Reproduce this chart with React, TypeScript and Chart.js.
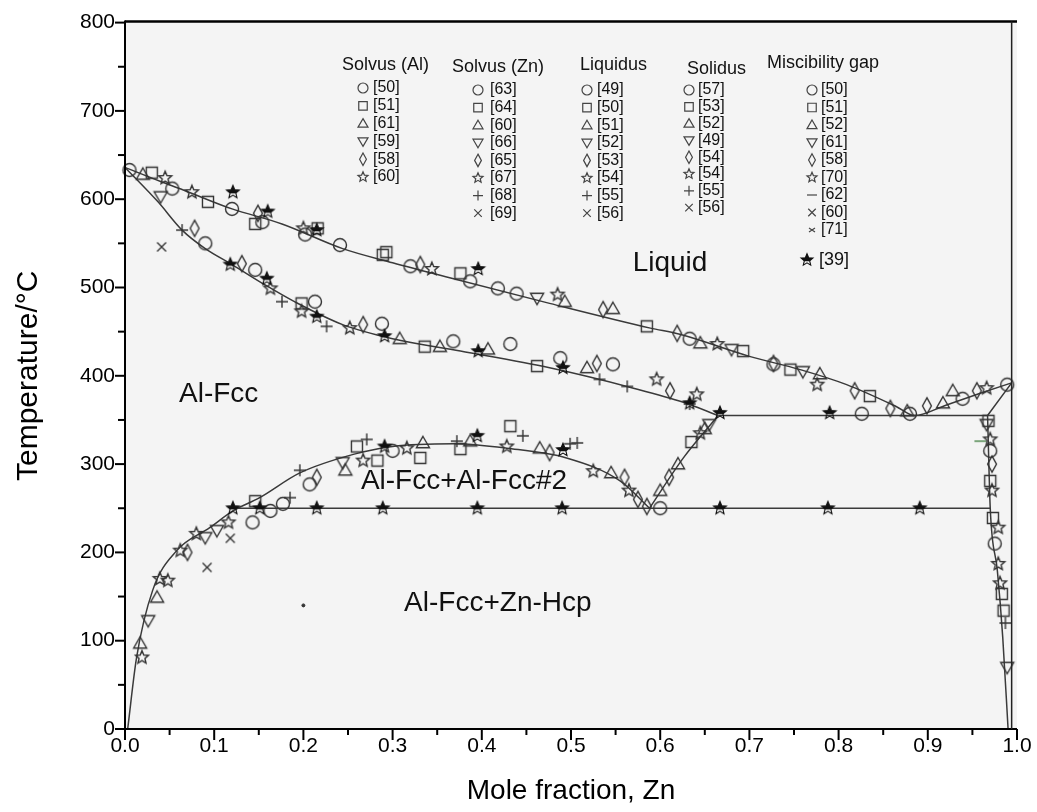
import React, { useEffect, useRef } from 'react';
import { Chart, registerables } from 'chart.js';

Chart.register(...registerables);

const FONT = "'Liberation Sans', Arial, Helvetica, sans-serif";
const INK = '#333333';
const LINE = '#3a3a3a';

// ---- calculated phase boundaries [x(Zn), T(°C)] ----
const liquidusLine = [[0, 636], [0.04, 620], [0.064, 611], [0.12, 589], [0.176, 572], [0.244, 544], [0.3, 528], [0.364, 511], [0.476, 482], [0.589, 454], [0.622, 447], [0.7, 422], [0.757, 407], [0.809, 390], [0.865, 365], [0.885, 355], [0.921, 367], [0.958, 380], [0.994, 392]];
const solidusLine = [[0, 636], [0.037, 597], [0.064, 565], [0.09, 544], [0.12, 526], [0.157, 503], [0.19, 484], [0.244, 458], [0.3, 442], [0.376, 428], [0.476, 409], [0.57, 386], [0.626, 370], [0.665, 355]];
const eutecticLine = [[0.665, 355], [0.967, 355]];
const znSolidusLine = [[0.967, 355], [0.994, 392]];
const znSolvusLine = [[0.967, 355], [0.97, 250], [0.978, 179], [0.984, 104], [0.99, 0]];
const monotectoidLine = [[0.121, 250], [0.97, 250]];
const gapLine = [[0.003, 0], [0.013, 81], [0.031, 157], [0.058, 202], [0.095, 228], [0.121, 247], [0.151, 262], [0.196, 290], [0.256, 311], [0.3, 320], [0.368, 323], [0.428, 318], [0.495, 307], [0.555, 281], [0.588, 250]];
const fcc2Line = [[0.588, 250], [0.626, 307], [0.665, 355]];

// ---- experimental points, by marker ----
const circlePts = [[0.005, 633], [0.053, 612], [0.12, 589], [0.154, 574], [0.202, 560], [0.241, 548], [0.32, 524], [0.387, 507], [0.418, 499], [0.439, 493], [0.633, 442], [0.727, 413], [0.826, 357], [0.88, 357], [0.939, 374], [0.989, 390],
  [0.09, 550], [0.146, 520], [0.213, 484], [0.288, 459], [0.368, 439], [0.432, 436], [0.488, 420], [0.547, 413],
  [0.143, 234], [0.163, 247], [0.177, 255], [0.207, 277], [0.3, 315], [0.6, 250], [0.97, 315], [0.975, 210]];
const squarePts = [[0.03, 630], [0.093, 597], [0.146, 572], [0.216, 567], [0.289, 537], [0.293, 540], [0.376, 516], [0.585, 456], [0.693, 428], [0.746, 407], [0.835, 377],
  [0.198, 482], [0.336, 433], [0.462, 411],
  [0.146, 258], [0.26, 320], [0.283, 304], [0.331, 307], [0.376, 317], [0.432, 343], [0.635, 325],
  [0.97, 281], [0.973, 239], [0.983, 153], [0.985, 134], [0.968, 349]];
const trianglePts = [[0.02, 628], [0.493, 484], [0.547, 476], [0.645, 437], [0.779, 402], [0.877, 360], [0.917, 369], [0.928, 383],
  [0.308, 442], [0.353, 433], [0.407, 430], [0.518, 409],
  [0.017, 97], [0.036, 149], [0.247, 293], [0.334, 324], [0.387, 326], [0.465, 318], [0.545, 290], [0.6, 270], [0.62, 300], [0.65, 340]];
const invTrianglePts = [[0.462, 488], [0.68, 430], [0.76, 405], [0.04, 603],
  [0.026, 123], [0.09, 217], [0.103, 225], [0.244, 302], [0.655, 345], [0.989, 70], [0.966, 345]];
const diamondPts = [[0.149, 584], [0.331, 526], [0.536, 475], [0.619, 448], [0.727, 414], [0.818, 383], [0.858, 363], [0.899, 366], [0.955, 383],
  [0.078, 567], [0.131, 527], [0.267, 458], [0.529, 414], [0.611, 383],
  [0.07, 200], [0.215, 285], [0.476, 313], [0.56, 285], [0.575, 260], [0.585, 252], [0.61, 285], [0.972, 300]];
const openStarPts = [[0.045, 624], [0.075, 608], [0.2, 567], [0.344, 521], [0.485, 492], [0.664, 436], [0.776, 390], [0.966, 386],
  [0.163, 499], [0.198, 473], [0.252, 454], [0.596, 396], [0.641, 379],
  [0.019, 81], [0.039, 170], [0.048, 168], [0.062, 202], [0.08, 221], [0.116, 234], [0.267, 304], [0.316, 318], [0.428, 320], [0.525, 292], [0.565, 270], [0.645, 335],
  [0.97, 328], [0.972, 270], [0.979, 228], [0.979, 187], [0.981, 165]];
const plusPts = [[0.064, 565], [0.176, 484], [0.226, 456], [0.532, 396], [0.563, 388], [0.633, 368],
  [0.196, 293], [0.271, 328], [0.372, 326], [0.446, 332], [0.499, 323], [0.507, 324], [0.185, 262], [0.987, 120]];
const crossPts = [[0.041, 546], [0.092, 183], [0.118, 216]];
const blackStarPts = [[0.121, 608], [0.16, 586], [0.215, 565], [0.396, 521],
  [0.118, 526], [0.159, 510], [0.215, 467], [0.291, 445], [0.396, 428], [0.491, 409], [0.633, 369], [0.667, 358], [0.79, 358],
  [0.121, 250], [0.151, 250], [0.215, 250], [0.289, 250], [0.395, 250], [0.49, 250], [0.667, 250], [0.788, 250], [0.891, 250],
  [0.291, 320], [0.395, 332], [0.491, 316]];
const dashPts = [[0.959, 326]];
const dotPts = [[0.2, 140]];

// ---- legend ----
const legendHeaders = ['Solvus (Al)', 'Solvus (Zn)', 'Liquidus', 'Solidus', 'Miscibility gap'];
const solvusAlRefs = ['[50]', '[51]', '[61]', '[59]', '[58]', '[60]'];
const solvusZnRefs = ['[63]', '[64]', '[60]', '[66]', '[65]', '[67]', '[68]', '[69]'];
const liquidusRefs = ['[49]', '[50]', '[51]', '[52]', '[53]', '[54]', '[55]', '[56]'];
const solidusRefs = ['[57]', '[53]', '[52]', '[49]', '[54]', '[54]', '[55]', '[56]'];
const gapRefs = ['[50]', '[51]', '[52]', '[61]', '[58]', '[70]', '[62]', '[60]', '[71]', '[39]'];
const baseMarkers = ['circle', 'square', 'triangle', 'invTriangle', 'diamond', 'star', 'plus', 'cross'];
const gapMarkers = ['circle', 'square', 'triangle', 'invTriangle', 'diamond', 'star', 'dash', 'cross', 'crossSmall', 'blackStar'];

// ---- region labels [text, x, T] ----
const regionLabels: [string, number, number][] = [
  ['Liquid', 0.611, 527],
  ['Al-Fcc', 0.105, 379],
  ['Al-Fcc+Al-Fcc#2', 0.38, 280],
  ['Al-Fcc+Zn-Hcp', 0.418, 142],
];

const xTickLabels = ['0.0', '0.1', '0.2', '0.3', '0.4', '0.5', '0.6', '0.7', '0.8', '0.9', '1.0'];

function starPath(g: CanvasRenderingContext2D, cx: number, cy: number, r: number) {
  g.beginPath();
  for (let i = 0; i < 10; i++) {
    const a = -Math.PI / 2 + (i * Math.PI) / 5;
    const rr = i % 2 === 0 ? r : r * 0.45;
    const px = cx + Math.cos(a) * rr;
    const py = cy + Math.sin(a) * rr;
    if (i === 0) g.moveTo(px, py); else g.lineTo(px, py);
  }
  g.closePath();
}

function drawMarker(g: CanvasRenderingContext2D, kind: string, m: number, n: number, size: number, color: string, lw: number) {
  const r = size / 2;
  g.save();
  g.strokeStyle = color;
  g.fillStyle = color;
  g.lineWidth = lw;
  g.beginPath();
  switch (kind) {
    case 'circle':
      g.arc(m, n, r, 0, Math.PI * 2); g.stroke(); break;
    case 'square':
      g.rect(m - r * 0.85, n - r * 0.85, r * 1.7, r * 1.7); g.stroke(); break;
    case 'triangle':
      g.moveTo(m, n - r); g.lineTo(m + r, n + r * 0.72); g.lineTo(m - r, n + r * 0.72); g.closePath(); g.stroke(); break;
    case 'invTriangle':
      g.moveTo(m, n + r); g.lineTo(m + r, n - r * 0.72); g.lineTo(m - r, n - r * 0.72); g.closePath(); g.stroke(); break;
    case 'diamond':
      g.moveTo(m, n - r * 1.25); g.lineTo(m + r * 0.68, n); g.lineTo(m, n + r * 1.25); g.lineTo(m - r * 0.68, n); g.closePath(); g.stroke(); break;
    case 'star':
      starPath(g, m, n, r * 1.05); g.stroke(); break;
    case 'blackStar':
      g.save();
      g.beginPath(); g.rect(m - r * 2, n - r * 2, r * 4, r * 2 + r * 0.2); g.clip();
      starPath(g, m, n, r * 1.05); g.fill();
      g.restore();
      starPath(g, m, n, r * 1.05); g.stroke(); break;
    case 'plus':
      g.moveTo(m - r, n); g.lineTo(m + r, n); g.moveTo(m, n - r); g.lineTo(m, n + r); g.stroke(); break;
    case 'cross':
      g.moveTo(m - r * 0.75, n - r * 0.75); g.lineTo(m + r * 0.75, n + r * 0.75);
      g.moveTo(m + r * 0.75, n - r * 0.75); g.lineTo(m - r * 0.75, n + r * 0.75); g.stroke(); break;
    case 'crossSmall':
      g.moveTo(m - r * 0.6, n - r * 0.4); g.lineTo(m + r * 0.6, n + r * 0.4);
      g.moveTo(m + r * 0.6, n - r * 0.4); g.lineTo(m - r * 0.6, n + r * 0.4); g.stroke(); break;
    case 'dash':
      g.moveTo(m - r, n); g.lineTo(m + r, n); g.stroke(); break;
  }
  g.restore();
}

function makeMarker(kind: string, size: number, color: string, lw: number): HTMLCanvasElement {
  const s = Math.ceil(size * 1.5 + 6);
  const c = document.createElement('canvas');
  c.width = s; c.height = s;
  const g = c.getContext('2d') as CanvasRenderingContext2D;
  drawMarker(g, kind, s / 2, s / 2, size, color, lw);
  return c;
}

const toXY = (arr: number[][]) => arr.map(([x, y]) => ({ x, y }));

export default function App() {
  const ref = useRef<HTMLCanvasElement | null>(null);

  useEffect(() => {
    const canvas = ref.current;
    if (!canvas) return;

    const markerSet = (label: string, pts: number[][], kind: string, size: number, color = INK, lw = 1.4) => ({
      label,
      data: toXY(pts),
      showLine: false,
      pointStyle: makeMarker(kind, size, color, lw),
      pointRadius: size / 2,
      clip: 12,
    });
    const lineSet = (label: string, pts: number[][], width = 1.5) => ({
      label,
      data: toXY(pts),
      showLine: true,
      pointRadius: 0,
      borderColor: LINE,
      borderWidth: width,
      cubicInterpolationMode: 'monotone' as const,
      fill: false,
      clip: 4,
    });

    const bgPlugin = {
      id: 'bg',
      beforeDraw(chart: any) {
        const { ctx, chartArea } = chart;
        ctx.save();
        ctx.fillStyle = '#ffffff';
        ctx.fillRect(0, 0, chart.width, chart.height);
        ctx.fillStyle = '#f4f4f4';
        ctx.fillRect(chartArea.left, chartArea.top - 2, chartArea.right - chartArea.left, chartArea.bottom - chartArea.top + 2);
        ctx.restore();
      },
    };

    const decoPlugin = {
      id: 'deco',
      afterDraw(chart: any) {
        const { ctx, chartArea } = chart;
        const xs = chart.scales.x;
        const ys = chart.scales.y;
        const { left, right, top, bottom } = chartArea;
        ctx.save();
        ctx.strokeStyle = '#000';
        // axes
        ctx.lineWidth = 2;
        ctx.beginPath();
        ctx.moveTo(left, top - 2); ctx.lineTo(left, bottom);
        ctx.lineTo(right, bottom);
        ctx.stroke();
        // top border
        ctx.lineWidth = 2.5;
        ctx.beginPath();
        ctx.moveTo(left, top - 1); ctx.lineTo(right, top - 1);
        ctx.stroke();
        // right border
        ctx.lineWidth = 1.5;
        ctx.strokeStyle = '#222';
        const rx = xs.getPixelForValue(0.994);
        ctx.beginPath();
        ctx.moveTo(rx, top - 1); ctx.lineTo(rx, bottom);
        ctx.stroke();
        // ticks
        ctx.strokeStyle = '#000';
        ctx.lineWidth = 2;
        for (let v = 0; v <= 800; v += 50) {
          const py = ys.getPixelForValue(v);
          const len = v % 100 === 0 ? 10 : 7;
          ctx.beginPath(); ctx.moveTo(left, py); ctx.lineTo(left - len, py); ctx.stroke();
        }
        for (let i = 0; i <= 20; i++) {
          const px = xs.getPixelForValue(i * 0.05);
          const len = i % 2 === 0 ? 11 : 6;
          ctx.beginPath(); ctx.moveTo(px, bottom); ctx.lineTo(px, bottom + len); ctx.stroke();
        }

        // region labels
        ctx.fillStyle = '#111';
        ctx.font = `28px ${FONT}`;
        ctx.textAlign = 'center';
        ctx.textBaseline = 'middle';
        for (const [t, x, T] of regionLabels) {
          ctx.fillText(t, xs.getPixelForValue(x), ys.getPixelForValue(T));
        }

        // legend
        const cols = [
          { hx: 342, hy: 65, mx: 363, tx: 373, y0: 88, dy: 17.8, refs: solvusAlRefs, marks: baseMarkers },
          { hx: 452, hy: 67, mx: 478, tx: 490, y0: 90, dy: 17.6, refs: solvusZnRefs, marks: baseMarkers },
          { hx: 580, hy: 65, mx: 587, tx: 597, y0: 90, dy: 17.6, refs: liquidusRefs, marks: baseMarkers },
          { hx: 687, hy: 69, mx: 689, tx: 698, y0: 90, dy: 16.8, refs: solidusRefs, marks: baseMarkers },
          { hx: 767, hy: 63, mx: 812, tx: 821, y0: 90, dy: 17.5, refs: gapRefs, marks: gapMarkers },
        ];
        ctx.textAlign = 'left';
        cols.forEach((c, ci) => {
          ctx.fillStyle = '#111';
          ctx.font = `18px ${FONT}`;
          ctx.fillText(legendHeaders[ci], c.hx, c.hy);
          c.refs.forEach((r, i) => {
            const kind = c.marks[i];
            let y = c.y0 + i * c.dy;
            let tx = c.tx;
            ctx.font = `16px ${FONT}`;
            if (kind === 'blackStar') {
              y = 260;
              tx = c.tx - 2;
              ctx.font = `18px ${FONT}`;
              drawMarker(ctx, kind, c.mx - 5, y, 12, '#111', 1.1);
            } else {
              drawMarker(ctx, kind, c.mx, y, 10, '#444', 1.2);
            }
            ctx.fillStyle = '#111';
            ctx.fillText(r, tx, y);
          });
        });
        ctx.restore();
      },
    };

    const chart = new Chart(canvas, {
      type: 'scatter',
      data: {
        datasets: [
          markerSet('blackStar', blackStarPts, 'blackStar', 13, '#111', 1.1),
          markerSet('circle', circlePts, 'circle', 13),
          markerSet('square', squarePts, 'square', 13),
          markerSet('triangle', trianglePts, 'triangle', 13),
          markerSet('invTriangle', invTrianglePts, 'invTriangle', 13),
          markerSet('diamond', diamondPts, 'diamond', 13),
          markerSet('openStar', openStarPts, 'star', 13),
          markerSet('plus', plusPts, 'plus', 12),
          markerSet('cross', crossPts, 'cross', 12),
          markerSet('dash', dashPts, 'dash', 12, '#3a7a3a', 1.3),
          { label: 'dot', data: toXY(dotPts), showLine: false, pointStyle: 'circle', pointRadius: 1.5, backgroundColor: '#333', borderColor: '#333' },
          lineSet('liquidus', liquidusLine),
          lineSet('solidus', solidusLine),
          lineSet('eutectic', eutecticLine),
          lineSet('znSolidus', znSolidusLine),
          lineSet('znSolvus', znSolvusLine),
          lineSet('monotectoid', monotectoidLine),
          lineSet('gap', gapLine),
          lineSet('fcc2', fcc2Line),
        ] as any,
      },
      options: {
        animation: false,
        responsive: false,
        maintainAspectRatio: false,
        events: [],
        layout: { padding: { top: 20, right: 20, left: 0, bottom: 0 } },
        plugins: {
          legend: { display: false },
          tooltip: { enabled: false },
        },
        scales: {
          x: {
            type: 'linear',
            min: 0,
            max: 1,
            afterFit: (s: any) => { s.height = 83; },
            grid: { display: false, drawTicks: false },
            border: { display: false },
            ticks: {
              stepSize: 0.1,
              padding: 5,
              color: '#000',
              font: { family: FONT, size: 21 },
              callback: (v: any) => xTickLabels[Math.round(Number(v) * 10)] ?? '',
            },
            title: {
              display: true,
              text: 'Mole fraction, Zn',
              color: '#000',
              font: { family: FONT, size: 28 },
              padding: { top: 0, bottom: 4 },
            },
          },
          y: {
            type: 'linear',
            min: 0,
            max: 800,
            afterFit: (s: any) => { s.width = 125; },
            grid: { display: false, drawTicks: false },
            border: { display: false },
            ticks: {
              stepSize: 100,
              padding: 10,
              color: '#000',
              font: { family: FONT, size: 21 },
            },
            title: {
              display: true,
              text: 'Temperature/°C',
              color: '#000',
              font: { family: FONT, size: 30 },
              padding: { top: 11, bottom: 0 },
            },
          },
        },
      },
      plugins: [bgPlugin, decoPlugin],
    });

    return () => chart.destroy();
  }, []);

  return (
    <div style={{ position: 'fixed', left: 0, top: 0, width: 1037, height: 812, background: '#fff' }}>
      <canvas ref={ref} width={1037} height={812} style={{ display: 'block', width: 1037, height: 812 }} />
    </div>
  );
}
